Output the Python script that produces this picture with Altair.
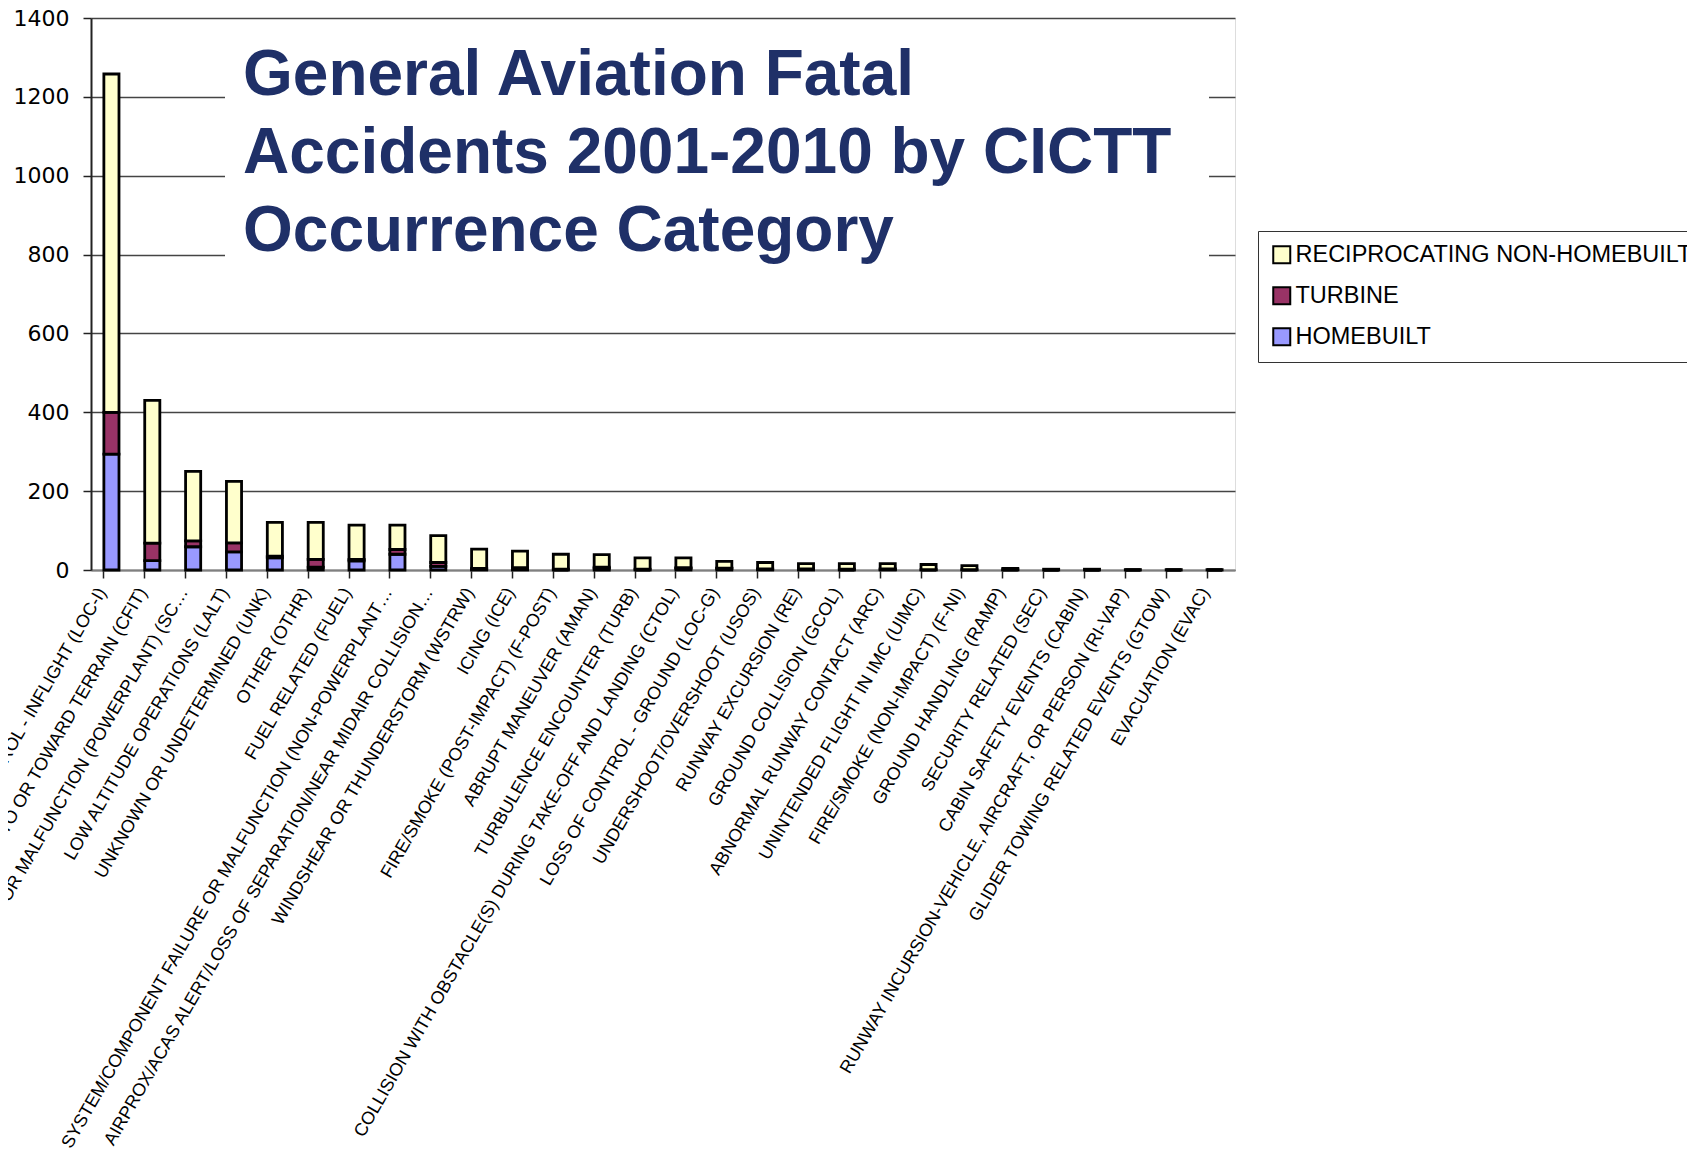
import altair as alt
import pandas as pd

categories = [
    "LOSS OF CONTROL - INFLIGHT (LOC-I)",
    "CONTROLLED FLIGHT INTO OR TOWARD TERRAIN (CFIT)",
    "SYSTEM/COMPONENT FAILURE OR MALFUNCTION (POWERPLANT) (SC…",
    "LOW ALTITUDE OPERATIONS (LALT)",
    "UNKNOWN OR UNDETERMINED (UNK)",
    "OTHER (OTHR)",
    "FUEL RELATED (FUEL)",
    "SYSTEM/COMPONENT FAILURE OR MALFUNCTION (NON-POWERPLANT…",
    "AIRPROX/ACAS ALERT/LOSS OF SEPARATION/NEAR MIDAIR COLLISION…",
    "WINDSHEAR OR THUNDERSTORM (WSTRW)",
    "ICING (ICE)",
    "FIRE/SMOKE (POST-IMPACT) (F-POST)",
    "ABRUPT MANEUVER (AMAN)",
    "TURBULENCE ENCOUNTER (TURB)",
    "COLLISION WITH OBSTACLE(S) DURING TAKE-OFF AND LANDING (CTOL)",
    "LOSS OF CONTROL - GROUND (LOC-G)",
    "UNDERSHOOT/OVERSHOOT (USOS)",
    "RUNWAY EXCURSION (RE)",
    "GROUND COLLISION (GCOL)",
    "ABNORMAL RUNWAY CONTACT (ARC)",
    "UNINTENDED FLIGHT IN IMC (UIMC)",
    "FIRE/SMOKE (NON-IMPACT) (F-NI)",
    "GROUND HANDLING (RAMP)",
    "SECURITY RELATED (SEC)",
    "CABIN SAFETY EVENTS (CABIN)",
    "RUNWAY INCURSION-VEHICLE, AIRCRAFT, OR PERSON (RI-VAP)",
    "GLIDER TOWING RELATED EVENTS (GTOW)",
    "EVACUATION (EVAC)",
]

homebuilt = [294, 24, 59, 46, 31, 7, 23, 40, 9, 1, 1, 0, 4, 0, 4, 4, 1, 1, 0, 1, 0, 0, 0, 0, 0, 0, 0, 0]
turbine = [106, 44, 15, 23, 4, 20, 4, 12, 10, 3, 5, 2, 3, 2, 2, 1, 2, 2, 2, 2, 1, 1, 1, 0, 0, 0, 0, 0]
reciprocating = [858, 362, 176, 156, 86, 94, 87, 62, 68, 49, 42, 38, 32, 29, 25, 17, 16, 13, 14, 13, 13, 10, 3, 2, 2, 1, 1, 1]

series_names = ["RECIPROCATING NON-HOMEBUILT", "TURBINE", "HOMEBUILT"]
series_colors = ["#FFFFCC", "#993366", "#9999FF"]
title_lines = ["General Aviation Fatal", "Accidents 2001-2010 by CICTT", "Occurrence Category"]

rows = []
for i, c in enumerate(categories):
    rows.append({"category": c, "type": "HOMEBUILT", "value": homebuilt[i], "ord": 0})
    rows.append({"category": c, "type": "TURBINE", "value": turbine[i], "ord": 1})
    rows.append({"category": c, "type": "RECIPROCATING NON-HOMEBUILT", "value": reciprocating[i], "ord": 2})
df = pd.DataFrame(rows)

W, H = 1144, 552

bars = alt.Chart(df).mark_bar(stroke="black", strokeWidth=2.8).encode(
    x=alt.X("category:N", sort=categories,
            scale=alt.Scale(paddingInner=0.63, paddingOuter=0.315),
            axis=alt.Axis(title=None, labelAngle=-60, labelAlign="right", labelBaseline="middle",
                          labelFont="Liberation Sans", labelFontSize=18, labelColor="black",
                          labelLimit=2000, labelOffset=-9, labelPadding=11,
                          bandPosition=0, tickSize=8, tickColor="#222222", tickWidth=1.5,
                          domainColor="#808080", domainWidth=2, grid=False, labelOverlap=False)),
    y=alt.Y("value:Q", stack="zero",
            scale=alt.Scale(domain=[0, 1400], nice=False),
            axis=alt.Axis(title=None, values=[0, 200, 400, 600, 800, 1000, 1200, 1400], format="d",
                          labelFont="DejaVu Sans", labelFontSize=22, labelColor="black",
                          labelPadding=14, tickSize=8, tickColor="#222222", tickWidth=1.5,
                          domainColor="#222222", domainWidth=2,
                          grid=True, gridColor="#444444", gridWidth=1.5)),
    color=alt.Color("type:N",
                    scale=alt.Scale(domain=series_names, range=series_colors),
                    legend=alt.Legend(title=None, orient="none", legendX=1167, legendY=213,
                                      fillColor="white", strokeColor="#333333", padding=12,
                                      symbolType="square", symbolSize=289,
                                      symbolStrokeColor="black", symbolStrokeWidth=2,
                                      labelFont="Liberation Sans", labelFontSize=23.5,
                                      labelColor="black", labelOffset=2, rowPadding=15,
                                      labelLimit=1000)),
    order=alt.Order("ord:Q", sort="ascending"),
)

title_box = alt.Chart(alt.Data(values=[{}])).mark_rect(color="white").encode(
    x=alt.value(134), x2=alt.value(1118), y=alt.value(7.5), y2=alt.value(251)
)

title_text = alt.Chart(alt.Data(values=[{}])).mark_text(
    text=title_lines, font="Liberation Sans", fontSize=64, fontWeight="bold",
    color="#1F3068", align="left", baseline="alphabetic", lineHeight=78
).encode(x=alt.value(152), y=alt.value(77))

chart = alt.layer(bars, title_box, title_text).properties(
    width=W, height=H,
    autosize=alt.AutoSizeParams(type="none"),
    padding={"left": 83, "top": 10, "right": 452, "bottom": 586},
).configure_view(
    fill="#C0C0C0", stroke="#808080", strokeWidth=2
).configure(background="white")

chart.save("out.html", embed_options={"renderer": "svg", "actions": False})
